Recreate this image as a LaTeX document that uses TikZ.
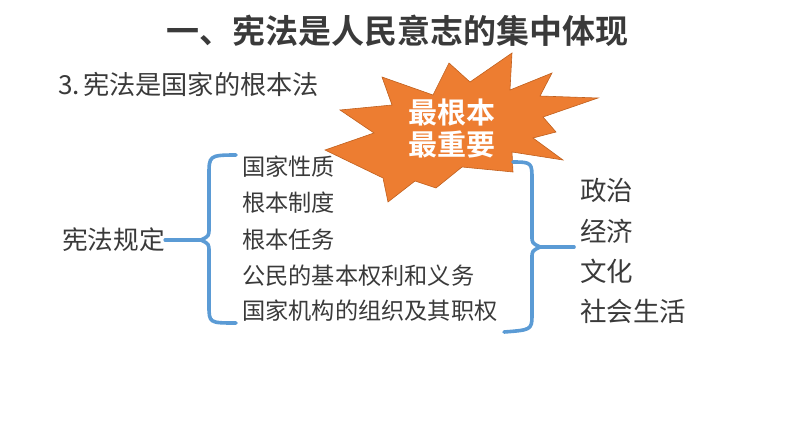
\documentclass[tikz,border=0pt]{standalone}
\usepackage{fontspec}
\setmainfont{Noto Sans CJK SC}
\newfontfamily\cjkb{Noto Sans CJK SC Bold}
\definecolor{txt}{HTML}{3A3A3A}
\definecolor{brk}{HTML}{5B9BD5}
\definecolor{star}{HTML}{ED7D31}
\definecolor{stare}{HTML}{C0601E}
\begin{document}
\begin{tikzpicture}[x=1pt,y=-1pt,
  lbl/.style={anchor=west,inner sep=0pt,text=txt,font=\fontsize{23.2}{28}\selectfont},
  rlbl/.style={anchor=west,inner sep=0pt,text=txt,font=\fontsize{26.5}{30}\selectfont},
  bracket/.style={draw=brk,line width=3.6pt,line cap=round,line join=round}]
\useasboundingbox (0,0) rectangle (794,447);
\node[inner sep=0pt,text=txt,font=\cjkb\fontsize{33}{40}\selectfont] (title) at (397.5,31) {一、宪法是人民意志的集中体现};
\node[anchor=west,inner sep=0pt,text=txt,font=\fontsize{26.2}{30}\selectfont] (sub) at (58,84) {3.\kern3pt 宪法是国家的根本法};
% star
\filldraw[fill=star,draw=stare,line width=0.6pt,line join=miter]
 (382,77) -- (433,95) -- (449,63) -- (470,82) -- (512,53) -- (510,90) -- (552,73) -- (540,96)
 -- (598,98) -- (543,117) -- (556,132) -- (533,138) -- (563,160) -- (512,152) -- (513,172)
 -- (462,167) -- (436,188) -- (415,181) -- (388,202) -- (383,178) -- (325,150) -- (374,133)
 -- (340,110) -- (392,105) -- cycle;
\node[inner sep=0pt,text=white,font=\cjkb\fontsize{29}{32}\selectfont] (s1) at (452,113) {最根本};
\node[inner sep=0pt,text=white,font=\cjkb\fontsize{29}{32}\selectfont] (s2) at (452,145) {最重要};
% left
\node[anchor=west,inner sep=0pt,text=txt,font=\fontsize{25.7}{30}\selectfont] (law) at (62,240) {宪法规定};
\node[lbl] (a1) at (242,167) {国家性质};
\node[lbl] (a2) at (242,203) {根本制度};
\node[lbl] (a3) at (242,240) {根本任务};
\node[lbl] (a4) at (242,276) {公民的基本权利和义务};
\node[lbl] (a5) at (242,311) {国家机构的组织及其职权};
\coordinate (lcusp) at (201,240);
\draw[bracket] (236,155) .. controls (209,155) and (209,156) .. (209,175) -- (209,228)
  .. controls (209,236) .. (lcusp) .. controls (209,244) .. (209,252) -- (209,305)
  .. controls (209,323) and (209,323) .. (236,323);
\draw[bracket] (law.east) -- (lcusp);
% right
\node[rlbl] (b1) at (580,190) {政治};
\node[rlbl] (b2) at (580,231) {经济};
\node[rlbl] (b3) at (580,271) {文化};
\node[rlbl] (b4) at (580,311) {社会生活};
\coordinate (rcusp) at (540,247);
\coordinate (rend) at (574,247);
\draw[bracket] (513,162) .. controls (532,162) and (532,163) .. (532,180) -- (532,236)
  .. controls (532,243) .. (rcusp) .. controls (532,251) .. (532,258) -- (532,316)
  .. controls (532,330) and (530,330) .. (504,332);
\draw[bracket] (rcusp) -- (rend);
\end{tikzpicture}
\end{document}
